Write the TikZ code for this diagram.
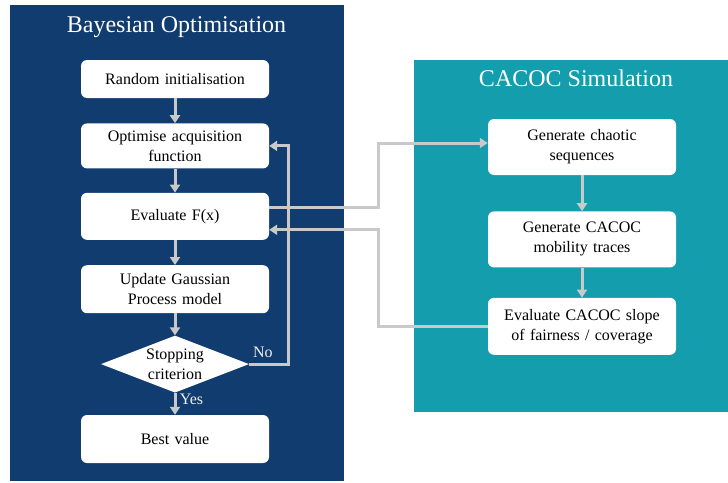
\documentclass[tikz,border=0pt]{standalone}
\usepackage{fontspec}
\setmainfont{Liberation Serif}
\usepackage{xcolor}
\usepackage{tikz}
\usetikzlibrary{shapes,shapes.geometric}
\usetikzlibrary{calc,arrows.meta,positioning}
\definecolor{boblue}{RGB}{16,60,111}
\definecolor{simteal}{RGB}{19,157,173}
\definecolor{flowgray}{RGB}{201,201,201}
\tikzset{
  panel/.style = {rectangle, draw=none, inner sep=0pt},
  ptitle/.style = {white, anchor=base, font=\fontsize{24}{28}\selectfont},
  box/.style = {rectangle, rounded corners=6pt, fill=white, align=center, inner sep=0pt, minimum width=188pt, text width=180pt, font=\fontsize{16}{20}\selectfont},
  decision/.style = {diamond, fill=white, align=center, inner sep=0pt, aspect=2.6, minimum width=148pt, minimum height=57pt, font=\fontsize{16}{20}\selectfont},
  flow/.style = {draw=flowgray, line width=3pt, -{Triangle[length=8pt,width=10pt]}},
  lbl/.style = {text=white!88!gray, font=\fontsize{16}{20}\selectfont}
}
\begin{document}
\begin{tikzpicture}[x=1pt,y=-1pt]
\useasboundingbox (0,0) rectangle (728,482);
% the two panels
\node[panel, fill=boblue, minimum width=334pt, minimum height=476pt] (boPanel) at (177,243) {};
\node[panel, fill=simteal, minimum width=314pt, minimum height=352pt] (simPanel) at (571,236) {};
\node[ptitle] (boTitle) at (176.5,32) {Bayesian Optimisation};
\node[ptitle] (simTitle) at (576,86) {CACOC Simulation};

% optimisation loop
\node[box, minimum height=38pt] (init) at (175,79) {Random initialisation};
\node[box, minimum height=45pt, below=25pt of init] (optim) {Optimise acquisition\\function};
\node[box, minimum height=47pt, below=24pt of optim] (eval) {Evaluate F(x)};
\node[box, minimum height=48pt, below=25pt of eval] (update) {Update Gaussian\\Process model};
\node[decision, below=22pt of update] (stop) {Stopping\\criterion};
\node[box, minimum height=48pt, below=22pt of stop] (best) {Best value};

% simulation
\node[box, minimum height=56pt] (chaos) at (582,147) {Generate chaotic\\sequences};
\node[box, minimum height=56pt, below=36pt of chaos] (traces) {Generate CACOC\\mobility traces};
\node[box, minimum height=57pt, below=30pt of traces] (slope) {Evaluate CACOC slope\\of fairness / coverage};

\foreach \a/\b in {init/optim, optim/eval, eval/update, update/stop, chaos/traces, traces/slope}
  \draw[flow] (\a) -- (\b);
\draw[flow] (stop) -- node[lbl, right, pos=0.3] {Yes} (best);
\draw[flow] (stop.east) -- node[lbl, above=2pt, pos=0.35] {No} ++(39pt,0) |- (optim.east);
\draw[flow] ([yshift=8.5pt]eval.east) -- ++(109pt,0) |- ([yshift=4pt]chaos.west);
\draw[flow] (slope.west) -- ++(-109pt,0) |- ([yshift=-13.5pt]eval.east);
\end{tikzpicture}
\end{document}
